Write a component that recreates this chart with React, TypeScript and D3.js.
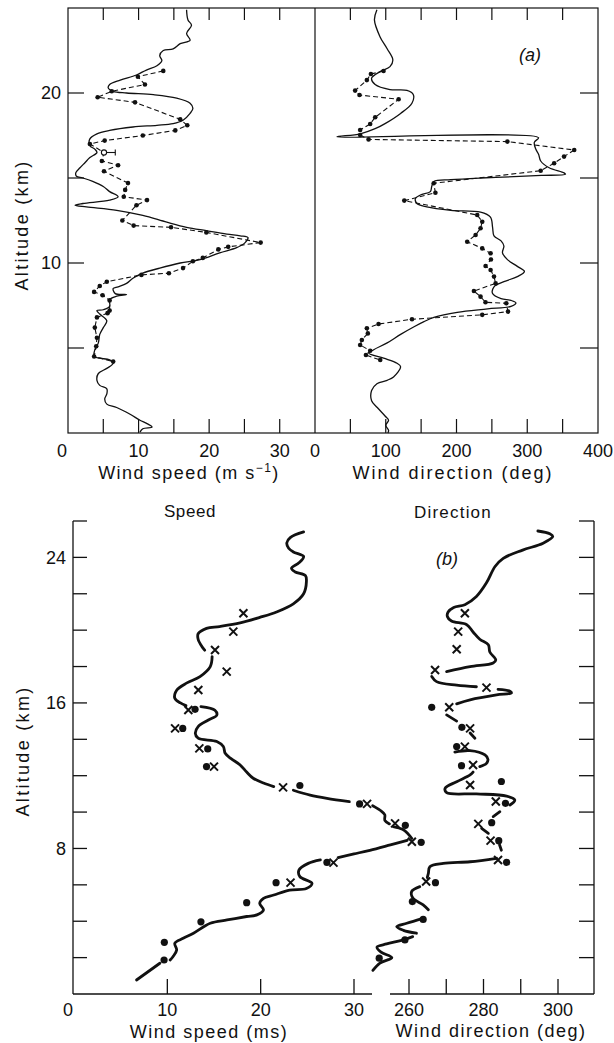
import React from 'react';
import * as d3 from 'd3';

type P = [number, number]; // [altitude km, value]

// ---------- Panel (a) ----------
const aSpeedSolid: P[] = [
  [24.9, 16.8], [24.3, 17.0], [23.99, 17.5], [23.5, 16.8], [23.1, 17.3], [22.9, 15.9], [22.6, 14.9],
  [22.5, 13.5], [22.2, 13.0], [21.9, 13.3], [21.6, 12.6], [21.35, 11.1], [21.06, 9.7], [20.76, 7.4],
  [20.5, 5.9], [20.3, 5.7], [20.1, 6.4], [20.0, 8.3], [19.9, 12.1], [19.7, 15.4], [19.4, 17.3],
  [19.1, 17.7], [18.8, 17.3], [18.4, 16.3], [18.2, 14.9], [18.1, 12.6], [18.0, 9.2], [17.8, 5.9],
  [17.6, 4.1], [17.3, 3.1], [16.9, 3.1], [16.7, 3.8], [16.5, 4.1], [16.2, 3.1], [15.9, 2.4],
  [15.6, 1.7], [15.3, 1.1], [15.1, 1.2], [15.0, 2.1], [14.8, 3.5], [14.5, 5.0], [14.2, 5.9],
  [13.9, 7.1], [13.7, 5.9], [13.5, 2.1], [13.4, 1.0], [13.3, 2.6], [13.1, 6.9], [12.8, 10.6],
  [12.4, 14.0], [12.1, 16.8], [11.9, 19.6], [11.7, 22.5], [11.6, 24.4], [11.5, 25.5], [11.2, 25.1],
  [10.9, 23.9], [10.6, 21.5], [10.2, 18.7], [10.0, 15.9], [9.7, 13.0], [9.4, 10.6], [9.1, 9.2],
  [8.8, 8.3], [8.6, 7.1], [8.5, 6.4], [8.2, 6.7], [8.15, 8.3], [8.05, 6.9], [7.85, 5.9], [7.45, 5.9],
  [7.25, 5.0], [7.2, 4.1], [7.0, 4.5], [6.6, 5.5], [6.2, 5.0], [5.8, 4.5], [5.3, 4.3], [4.9, 3.8],
  [4.5, 3.7], [4.4, 4.5], [4.3, 5.9], [4.1, 6.4], [3.8, 5.5], [3.5, 4.3], [3.1, 4.1], [2.8, 4.5],
  [2.6, 5.5], [2.3, 5.5], [2.0, 5.2], [1.7, 5.5], [1.5, 6.9], [1.1, 8.8], [0.75, 10.2], [0.55, 11.2],
  [0.35, 11.9], [0.25, 10.6], [0.05, 10.2],
];

const aSpeedDashed: P[] = [
  [21.3, 13.5], [20.96, 9.9], [20.5, 10.9], [20.1, 6.2], [19.75, 4.2], [19.45, 9.5], [18.45, 15.9],
  [18.1, 16.9], [17.8, 15.2], [17.5, 10.6], [17.2, 5.2], [17.0, 3.1], [16.5, 5.1], [16.0, 4.8],
  [15.75, 7.1], [15.4, 5.1], [14.7, 8.5], [14.3, 8.1], [13.9, 7.9], [13.7, 11.2], [13.4, 9.7],
  [12.5, 7.7], [12.2, 9.3], [12.1, 14.6], [11.8, 19.6], [11.2, 27.3], [10.95, 22.7], [10.8, 21.3],
  [10.3, 19.1], [10.1, 17.7], [9.7, 16.3], [9.4, 14.3], [9.3, 10.4], [8.9, 5.5], [8.65, 4.5],
  [8.3, 3.7], [8.1, 4.9], [7.8, 5.9], [7.2, 5.9], [7.05, 5.6], [6.8, 4.1], [6.2, 3.8], [5.6, 4.1],
  [5.1, 4.0], [4.5, 3.7], [4.2, 6.4],
];

const aSpeedErrorBar = [16.5, 5.1, 6.7]; // altitude, value, upper

const aDirSolid: P[] = [
  [24.9, 87.5], [24.3, 84], [23.3, 92], [22.6, 102], [21.95, 110], [21.55, 106], [21.26, 92],
  [20.87, 80], [20.5, 85], [20.2, 106], [20.15, 130], [19.9, 139], [19.4, 137], [18.8, 121],
  [18.2, 99], [17.9, 85], [17.6, 64], [17.42, 31], [17.37, 316], [17.1, 310], [16.7, 312],
  [16.4, 316], [16.0, 319], [15.6, 331], [15.3, 352], [15.22, 354], [15.15, 320], [15.08, 281],
  [15.0, 234], [14.9, 192], [14.8, 168], [14.5, 165], [14.2, 163], [14.0, 149], [13.8, 142],
  [13.5, 144], [13.3, 158], [13.1, 192], [12.99, 234], [12.7, 248], [12.1, 251], [11.6, 253],
  [11.3, 263], [11.0, 267], [10.6, 265], [10.2, 272], [9.8, 286], [9.5, 296], [9.2, 286], [8.9, 267],
  [8.6, 253], [8.2, 251], [7.9, 263], [7.8, 277], [7.65, 284], [7.45, 277], [7.3, 244], [7.1, 201],
  [6.8, 168], [6.55, 154], [6.25, 140], [5.8, 121], [5.3, 102], [4.9, 83], [4.7, 76], [4.4, 97],
  [4.1, 116], [3.9, 121], [3.3, 111], [3.1, 102], [2.9, 87.5], [2.5, 80], [1.9, 80], [1.5, 88],
  [1.0, 99], [0.75, 104], [0.45, 100], [0.15, 104], [0.0, 103],
];

const aDirDashed: P[] = [
  [21.29, 96.9], [21.12, 79], [20.76, 73.3], [20.14, 56.7], [19.88, 62.9], [19.63, 118.2],
  [18.57, 85.1], [18.18, 78], [17.82, 63.8], [17.53, 63.8], [17.27, 75.7], [17.14, 271.9],
  [16.65, 366.4], [16.26, 352], [15.87, 338], [15.43, 319], [14.69, 167.8], [14.13, 170.2],
  [13.67, 126.2], [12.82, 229.3], [12.43, 236.4], [12.04, 234], [11.65, 227], [11.25, 215.1],
  [10.86, 236.4], [10.57, 248.2], [10.21, 248.7], [9.82, 241.1], [9.59, 248.2], [9.2, 253],
  [8.8, 255.3], [8.35, 224.6], [8.02, 234], [7.69, 241], [7.63, 270.4], [7.14, 272.8],
  [6.95, 236.4], [6.69, 137.1], [6.41, 89.8], [6.16, 73.3], [5.86, 74.7], [5.47, 66.2],
  [5.18, 63.8], [4.84, 78], [4.59, 72], [4.29, 92.2],
];

const aAltTicks = [5, 10, 15, 20];
const aAltLabels = [10, 20];
const aSpeedTicks = [5, 10, 15, 20, 25, 30];
const aSpeedLabels = [0, 10, 20, 30];
const aDirTicks = [50, 100, 150, 200, 250, 300, 350];
const aDirLabels = [0, 100, 200, 300, 400];

// ---------- Panel (b) ----------
const bSpeedSeg1: P[] = [
  [25.4, 24.6], [25.1, 23.2], [24.8, 22.8], [24.5, 23.0], [24.3, 23.5], [24.05, 24.6], [23.7, 24.1],
  [23.4, 23.3], [23.2, 23.7], [23.0, 24.8], [22.67, 24.9], [22.0, 24.6], [21.45, 23.5], [21.0, 21.7],
  [20.7, 19.9], [20.4, 17.8], [20.2, 15.6], [20.1, 14.2], [19.8, 13.3], [19.5, 13.3], [19.1, 13.7],
  [18.9, 14.0],
];
const bSpeedSeg2: P[] = [
  [18.55, 14.8], [18.0, 14.6], [17.45, 13.5], [17.1, 12.1], [16.7, 11.0], [16.26, 10.8], [16.0, 11.4],
  [15.85, 12.0],
];
const bSpeedSeg3: P[] = [
  [15.8, 13.6], [15.6, 15.1], [15.33, 15.3], [15.06, 14.4], [14.7, 13.3], [14.33, 13.0], [14.06, 13.3],
  [13.88, 15.3], [13.6, 16.0], [13.23, 16.2], [12.95, 16.8], [12.59, 17.8], [12.2, 18.5], [11.86, 19.2],
  [11.6, 20.3], [11.4, 21.4],
];
const bSpeedSeg4: P[] = [[11.2, 23.5], [10.93, 25.3], [10.75, 27.1], [10.57, 29.5]];
const bSpeedSeg5: P[] = [[10.35, 32.0], [10.1, 32.8], [9.85, 33.3], [9.55, 33.3], [9.35, 33.8]];
const bSpeedSeg6: P[] = [[9.2, 34.2], [9.05, 35.2], [8.8, 35.8], [8.55, 36.2]];
const bSpeedSeg7: P[] = [[8.45, 35.7], [8.2, 33.9], [7.9, 31.7], [7.7, 30.0], [7.5, 28.3]];
const bSpeedSeg8: P[] = [
  [7.37, 26.4], [7.18, 25.1], [6.81, 24.1], [6.45, 24.2], [6.08, 25.5], [5.8, 24.9], [5.71, 23.1],
  [5.44, 21.4], [5.26, 20.3], [4.98, 19.9], [4.62, 20.3], [4.35, 19.6], [4.26, 18.5], [4.07, 16.4],
  [3.89, 14.6], [3.34, 12.8], [3.06, 11.7], [2.79, 10.8], [2.42, 11.0], [2.05, 10.6], [1.87, 10.3],
];
const bSpeedSeg9: P[] = [[1.69, 9.2], [0.77, 6.7]];

const bSpeedCross: P[] = [
  [20.93, 18.15], [19.92, 17.07], [18.91, 15.11], [17.72, 16.36], [16.71, 13.32], [15.61, 12.25],
  [14.6, 10.83], [13.5, 13.43], [12.5, 15.0], [11.36, 22.4], [10.45, 31.4], [9.38, 34.4], [8.37, 36.2],
  [7.22, 27.8], [6.12, 23.2],
];
const bSpeedDot: P[] = [
  [15.65, 12.97], [14.6, 11.65], [13.47, 14.33], [12.5, 14.2], [11.46, 24.2], [10.45, 30.6],
  [9.27, 35.5], [8.34, 37.2], [7.23, 27.1], [6.12, 21.65], [5.02, 18.5], [3.97, 13.6], [2.84, 9.68],
  [1.87, 9.65],
];

const bDirSeg1: P[] = [
  [25.45, 294.6], [25.3, 297.8], [25.15, 298.6], [24.78, 296.0], [24.4, 290.5], [23.95, 285.3],
  [23.5, 283.1], [22.6, 280.8], [21.85, 278.1], [21.4, 275.0], [21.25, 272.0], [21.0, 270.5],
  [20.75, 270.3], [20.5, 271.4], [20.3, 275.5], [19.9, 277.2], [19.5, 279.0], [19.2, 281.3],
  [18.8, 281.7], [18.36, 283.3], [18.2, 282.6], [17.99, 276.4], [17.72, 270.1],
];
const bDirSeg2: P[] = [[17.45, 266.1], [17.17, 267.4], [16.98, 272.8], [16.89, 278.1]];
const bDirSeg3: P[] = [
  [16.75, 283.9], [16.65, 287.1], [16.55, 287.5], [16.44, 283.5], [16.17, 276.4], [15.95, 272.8],
];
const bDirSeg4: P[] = [[15.34, 270.1], [15.0, 272.8]];
const bDirSeg5: P[] = [[14.35, 276.4], [14.06, 277.7]];
const bDirSeg6: P[] = [
  [13.3, 272.3], [13.38, 276.4], [13.14, 280.4], [12.9, 281.2], [12.68, 280.8], [12.5, 279.0],
];
const bDirSeg7: P[] = [
  [12.2, 277.2], [12.04, 276.4], [11.67, 272.8], [11.31, 269.7], [11.07, 270.1], [11.0, 278.1],
  [10.88, 286.2], [10.66, 288.4], [10.39, 287.1],
];
const bDirSeg8: P[] = [[10.02, 284.4], [9.75, 282.6]];
const bDirSeg9: P[] = [[9.1, 279.5], [8.83, 281.3]];
const bDirSeg10: P[] = [[8.2, 284.3], [7.9, 284.8]];
const bDirSeg11: P[] = [
  [7.46, 283.5], [7.27, 276.4], [7.18, 269.2], [7.0, 265.6], [6.63, 265.2], [6.4, 264.9],
];
const bDirSeg12: P[] = [[5.9, 262.9], [5.63, 260.7], [5.26, 261.1], [4.9, 263.8], [4.63, 265.2]];
const bDirSeg13: P[] = [[4.16, 263.8], [3.89, 259.4], [3.7, 256.7], [3.5, 258.5], [3.34, 262.0]];
const bDirSeg14: P[] = [
  [3.15, 261.0], [2.95, 258.0], [2.75, 254.0], [2.58, 251.4], [2.3, 252.5], [2.0, 255.4],
  [1.7, 252.2], [1.3, 250.3],
];

const bDirCross: P[] = [
  [20.93, 275.0], [19.92, 273.2], [18.95, 272.8], [17.81, 267.0], [16.84, 280.8], [15.76, 270.8],
  [14.6, 276.4], [13.6, 275.0], [12.59, 277.2], [11.49, 276.4], [10.58, 283.3], [9.35, 278.6],
  [8.43, 281.9], [7.37, 283.9], [6.18, 264.6],
];
const bDirDot: P[] = [
  [15.76, 266.1], [14.66, 274.2], [13.6, 272.8], [12.55, 274.1], [11.68, 284.8], [10.48, 285.9],
  [9.42, 282.2], [8.43, 284.1], [7.24, 286.2], [6.12, 267.1], [5.08, 260.9], [4.1, 263.8],
  [2.97, 258.9], [1.97, 252.0],
];

const bAltTicks = [2, 4, 6, 8, 10, 12, 14, 16, 18, 20, 22, 24, 26];
const bAltLabels = [8, 16, 24];
const bSpeedTicks = [10, 20, 30];
const bSpeedLabels = [0, 10, 20, 30];
const bDirTicks = [260, 270, 280, 290, 300];
const bDirLabels = [260, 280, 300];

const FONT = "'Liberation Sans', Arial, sans-serif";

export default function App() {
  const aY = d3.scaleLinear().domain([0, 25]).range([433, 8]);
  const aSX = d3.scaleLinear().domain([0, 35]).range([68, 315]);
  const aDX = d3.scaleLinear().domain([0, 400]).range([315, 598]);
  const bY = d3.scaleLinear().domain([0, 26]).range([994, 521]);
  const bSX = d3.scaleLinear().domain([0, 30]).range([74, 354]);
  const bDX = d3.scaleLinear().domain([260, 300]).range([409, 558]);

  const mk = (xs: d3.ScaleLinear<number, number>, ys: d3.ScaleLinear<number, number>) =>
    d3.line<P>().x((d) => xs(d[1])).y((d) => ys(d[0])).curve(d3.curveCatmullRom.alpha(0.5));
  const mkLin = (xs: d3.ScaleLinear<number, number>, ys: d3.ScaleLinear<number, number>) =>
    d3.line<P>().x((d) => xs(d[1])).y((d) => ys(d[0]));

  const aSpeedLine = mk(aSX, aY);
  const aDirLine = mk(aDX, aY);
  const aSpeedDash = mkLin(aSX, aY);
  const aDirDash = mkLin(aDX, aY);
  const bSpeedLine = mk(bSX, bY);
  const bDirLine = mk(bDX, bY);

  const bSpeedSegs = [bSpeedSeg1, bSpeedSeg2, bSpeedSeg3, bSpeedSeg4, bSpeedSeg5, bSpeedSeg6, bSpeedSeg7, bSpeedSeg8, bSpeedSeg9];
  const bDirSegs = [bDirSeg1, bDirSeg2, bDirSeg3, bDirSeg4, bDirSeg5, bDirSeg6, bDirSeg7, bDirSeg8, bDirSeg9, bDirSeg10, bDirSeg11, bDirSeg12, bDirSeg13, bDirSeg14];

  const cross = (x: number, y: number, s = 4) => `M${x - s},${y - s}L${x + s},${y + s}M${x - s},${y + s}L${x + s},${y - s}`;

  const aL = 68, aR = 598, aT = aY(25), aB = aY(0), aM = 315;
  const bL = 73, bR = 594, bT = bY(26), bB = bY(0);

  const tickText = { fontFamily: FONT, fontSize: 17, fill: '#111' } as const;

  return (
    <svg width={614} height={1043} viewBox="0 0 614 1043" style={{ position: 'absolute', left: 0, top: 0, background: '#fff' }}>
      <rect x={0} y={0} width={614} height={1043} fill="#fff" />
      {/* ===== Panel (a) ===== */}
      <g stroke="#111" fill="none" strokeWidth={1.2}>
        <rect x={aL} y={aT} width={aR - aL} height={aB - aT} />
        <line x1={aM} x2={aM} y1={aT} y2={aB} />
        {aAltTicks.map((t) => (
          <g key={'at' + t}>
            <line x1={aL} x2={aL + 16} y1={aY(t)} y2={aY(t)} />
            <line x1={aR - 18} x2={aR} y1={aY(t)} y2={aY(t)} />
          </g>
        ))}
        {aSpeedTicks.map((t) => (
          <g key={'st' + t}>
            <line x1={aSX(t)} x2={aSX(t)} y1={aT} y2={aT + 12} />
            <line x1={aSX(t)} x2={aSX(t)} y1={aB - 14} y2={aB} />
          </g>
        ))}
        {aDirTicks.map((t) => (
          <g key={'dt' + t}>
            <line x1={aDX(t)} x2={aDX(t)} y1={aT} y2={aT + 12} />
            <line x1={aDX(t)} x2={aDX(t)} y1={aB - 14} y2={aB} />
          </g>
        ))}
      </g>
      <path d={aSpeedLine(aSpeedSolid) || ''} fill="none" stroke="#111" strokeWidth={1.3} />
      <path d={aDirLine(aDirSolid) || ''} fill="none" stroke="#111" strokeWidth={1.3} />
      <path d={aSpeedDash(aSpeedDashed) || ''} fill="none" stroke="#111" strokeWidth={1.1} strokeDasharray="5,3" />
      <path d={aDirDash(aDirDashed) || ''} fill="none" stroke="#111" strokeWidth={1.1} strokeDasharray="5,3" />
      {aSpeedDashed.map((d, i) => (
        <circle key={'asd' + i} cx={aSX(d[1])} cy={aY(d[0])} r={2.3} fill="#111" />
      ))}
      {aDirDashed.map((d, i) => (
        <circle key={'add' + i} cx={aDX(d[1])} cy={aY(d[0])} r={2.3} fill="#111" />
      ))}
      <g stroke="#111" strokeWidth={1.1} fill="#fff">
        <line x1={aSX(aSpeedErrorBar[1])} x2={aSX(aSpeedErrorBar[2])} y1={aY(aSpeedErrorBar[0])} y2={aY(aSpeedErrorBar[0])} />
        <line x1={aSX(aSpeedErrorBar[2])} x2={aSX(aSpeedErrorBar[2])} y1={aY(aSpeedErrorBar[0]) - 3} y2={aY(aSpeedErrorBar[0]) + 3} />
        <circle cx={aSX(aSpeedErrorBar[1])} cy={aY(aSpeedErrorBar[0])} r={2.6} />
      </g>
      {aAltLabels.map((t) => (
        <text key={'al' + t} x={61} y={aY(t)} dy="0.36em" textAnchor="end" {...tickText} fontSize={18}>{t}</text>
      ))}
      {aSpeedLabels.map((t) => (
        <text key={'sl' + t} x={aSX(t) + (t === 0 ? -6 : 0)} y={457} textAnchor="middle" {...tickText} fontSize={18}>{t}</text>
      ))}
      {aDirLabels.map((t) => (
        <text key={'dl' + t} x={aDX(t)} y={457} textAnchor="middle" {...tickText} fontSize={18}>{t}</text>
      ))}
      <text x={189} y={479} textAnchor="middle" fontFamily={FONT} fontSize={18} letterSpacing={1.5} fill="#111">
        Wind speed (m s<tspan dy={-7} fontSize={12}>−1</tspan><tspan dy={7}>)</tspan>
      </text>
      <text x={453} y={479} textAnchor="middle" fontFamily={FONT} fontSize={18} letterSpacing={2} fill="#111">
        Wind direction (deg)
      </text>
      <text transform={`translate(22,225) rotate(-90)`} textAnchor="middle" dominantBaseline="central" fontFamily={FONT} fontSize={18} letterSpacing={2.3} fill="#111">
        Altitude (km)
      </text>
      <text x={530} y={61} textAnchor="middle" fontFamily={FONT} fontSize={18} fontStyle="italic" fill="#111">(a)</text>

      {/* ===== Panel (b) ===== */}
      <g stroke="#111" fill="none" strokeWidth={1.3}>
        <line x1={bL} x2={bL} y1={bT} y2={bB} />
        <line x1={bL} x2={372} y1={bB} y2={bB} />
        <line x1={390} x2={bR} y1={bB} y2={bB} />
        <line x1={bR} x2={bR} y1={bT} y2={bB} />
        {bAltTicks.map((t) => (
          <g key={'bt' + t}>
            <line x1={bL} x2={bL + 14} y1={bY(t)} y2={bY(t)} />
            <line x1={bR - 15} x2={bR} y1={bY(t)} y2={bY(t)} />
          </g>
        ))}
        {bSpeedTicks.map((t) => (
          <line key={'bst' + t} x1={bSX(t)} x2={bSX(t)} y1={bB - 15} y2={bB} />
        ))}
        {bDirTicks.map((t) => (
          <line key={'bdt' + t} x1={bDX(t)} x2={bDX(t)} y1={bB - 15} y2={bB} />
        ))}
      </g>
      {bSpeedSegs.map((s, i) => (
        <path key={'bss' + i} d={bSpeedLine(s) || ''} fill="none" stroke="#111" strokeWidth={2.8} strokeLinecap="round" />
      ))}
      {bDirSegs.map((s, i) => (
        <path key={'bds' + i} d={bDirLine(s) || ''} fill="none" stroke="#111" strokeWidth={2.8} strokeLinecap="round" />
      ))}
      {bSpeedCross.map((d, i) => (
        <path key={'bsc' + i} d={cross(bSX(d[1]), bY(d[0]))} stroke="#111" strokeWidth={2} fill="none" />
      ))}
      {bDirCross.map((d, i) => (
        <path key={'bdc' + i} d={cross(bDX(d[1]), bY(d[0]))} stroke="#111" strokeWidth={2} fill="none" />
      ))}
      {bSpeedDot.map((d, i) => (
        <circle key={'bsd' + i} cx={bSX(d[1])} cy={bY(d[0])} r={3.6} fill="#111" />
      ))}
      {bDirDot.map((d, i) => (
        <circle key={'bdd' + i} cx={bDX(d[1])} cy={bY(d[0])} r={3.6} fill="#111" />
      ))}
      {bAltLabels.map((t) => (
        <text key={'bal' + t} x={66} y={bY(t)} dy="0.36em" textAnchor="end" {...tickText} fontSize={18}>{t}</text>
      ))}
      {bSpeedLabels.map((t) => (
        <text key={'bsl' + t} x={bSX(t) + (t === 0 ? -6 : 0)} y={1016} textAnchor="middle" {...tickText} fontSize={18}>{t}</text>
      ))}
      {bDirLabels.map((t) => (
        <text key={'bdl' + t} x={bDX(t)} y={1016} textAnchor="middle" {...tickText} fontSize={18}>{t}</text>
      ))}
      <text x={209} y={1038} textAnchor="middle" fontFamily={FONT} fontSize={18} letterSpacing={1.5} fill="#111">
        Wind speed (ms)
      </text>
      <text x={491} y={1037} textAnchor="middle" fontFamily={FONT} fontSize={18} letterSpacing={1.5} fill="#111">
        Wind direction (deg)
      </text>
      <text transform={`translate(23,751) rotate(-90)`} textAnchor="middle" dominantBaseline="central" fontFamily={FONT} fontSize={18} letterSpacing={2.3} fill="#111">
        Altitude (km)
      </text>
      <text x={190} y={517} textAnchor="middle" fontFamily={FONT} fontSize={17} letterSpacing={0.6} fill="#111">Speed</text>
      <text x={453} y={518} textAnchor="middle" fontFamily={FONT} fontSize={17} letterSpacing={1.2} fill="#111">Direction</text>
      <text x={447} y={565} textAnchor="middle" fontFamily={FONT} fontSize={18} fontStyle="italic" fill="#111">(b)</text>
    </svg>
  );
}
